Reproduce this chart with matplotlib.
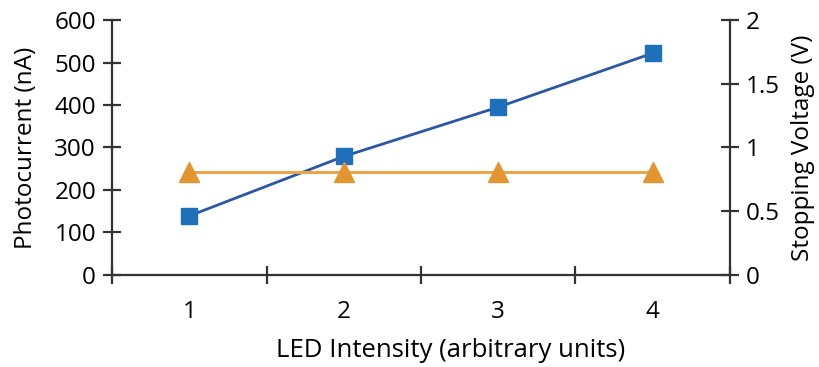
import matplotlib.pyplot as plt
from matplotlib.ticker import FixedLocator, NullFormatter

plt.rcParams['font.family'] = ['Open Sans', 'DejaVu Sans']

intensity = [1, 2, 3, 4]
photocurrent = [139, 279, 395, 522]
stopping_voltage = [0.81, 0.81, 0.81, 0.81]

fig = plt.figure(figsize=(8.2, 3.67), dpi=100)
ax = fig.add_axes([0.1366, 0.2507, 0.7536, 0.6948])
ax2 = ax.twinx()

ax.plot(intensity, photocurrent, color='#2b57a6', lw=2, marker='s', ms=11.5,
        mfc='#1f6fba', mec='#1f6fba', zorder=3)
ax2.plot(intensity, stopping_voltage, color='#eaa64a', lw=2.2, marker='^', ms=14,
         mfc='#e39530', mec='#e39530')

ax.set_xlim(0.5, 4.5)
ax.set_ylim(0, 600)
ax2.set_ylim(0, 2)

ax.set_yticks(range(0, 601, 100))
ax2.set_yticks([0, 0.5, 1, 1.5, 2])
ax2.set_yticklabels(['0', '0.5', '1', '1.5', '2'])

# category axis: ticks between categories, labels centred
ax.xaxis.set_major_locator(FixedLocator([0.5, 1.5, 2.5, 3.5, 4.5]))
ax.xaxis.set_major_formatter(NullFormatter())
ax.xaxis.set_minor_locator(FixedLocator(intensity))
ax.set_xticklabels([str(i) for i in intensity], minor=True)

spine_col = '#333333'
for a in (ax, ax2):
    for s in a.spines.values():
        s.set_color(spine_col)
        s.set_linewidth(1.6)
    a.spines['top'].set_visible(False)
ax.spines['right'].set_visible(False)
ax2.spines['left'].set_visible(False)
ax2.spines['bottom'].set_visible(False)

fs = 17.5
ax.tick_params(axis='both', which='major', direction='inout', length=13, width=1.6,
               color=spine_col, labelsize=fs, pad=5)
ax.tick_params(axis='x', which='minor', length=0, labelsize=fs, pad=18)
ax2.tick_params(axis='y', direction='inout', length=13, width=1.6,
                color=spine_col, labelsize=fs, pad=5)

ax.set_ylabel('Photocurrent (nA)', fontsize=fs, labelpad=12)
ax2.set_ylabel('Stopping Voltage (V)', fontsize=fs, labelpad=8)
ax.set_xlabel('LED Intensity (arbitrary units)', fontsize=18.5, labelpad=10, x=0.548)

fig.savefig('out.png', dpi=100)
